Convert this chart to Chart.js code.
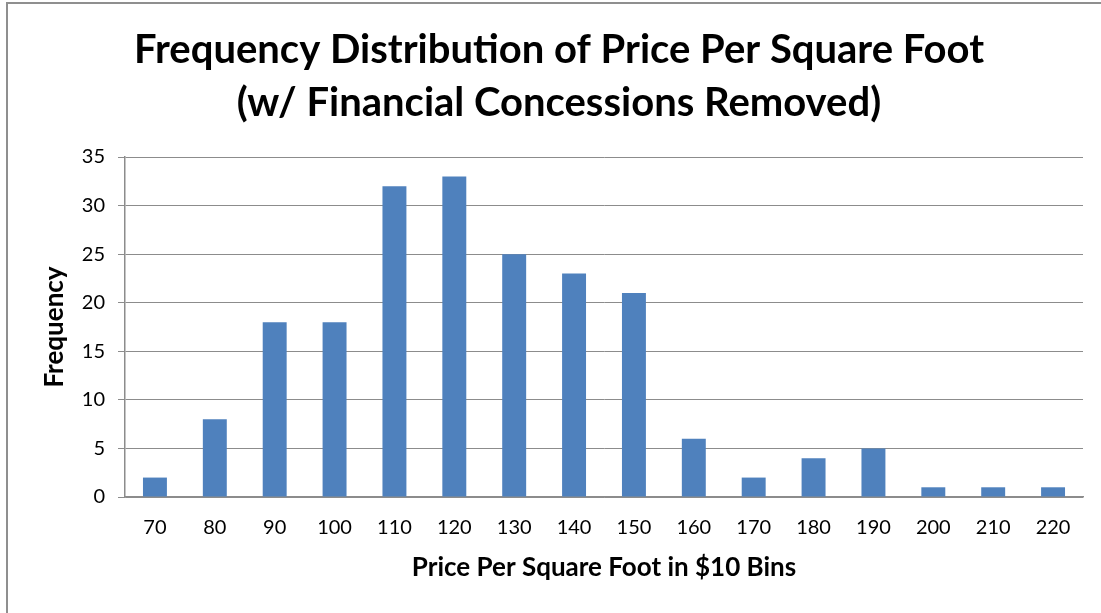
<!DOCTYPE html>
<html>
<head>
<meta charset="utf-8">
<script src="https://cdn.jsdelivr.net/npm/chart.js@4/dist/chart.umd.min.js"></script>
<style>
  html, body { margin: 0; padding: 0; background: #fff; overflow: hidden; width: 1101px; height: 613px; }
  #frame { position: absolute; left: 6px; top: 2px; width: 2000px; height: 2000px; border-left: 2px solid #8f8f8f; border-top: 2px solid #8f8f8f; }
  #c { position: absolute; left: 0; top: 0; }
</style>
</head>
<body>
<div id="frame"></div>
<canvas id="c" width="1101" height="613"></canvas>
<script>
const titleLines = ["Frequency Distribution of Price Per Square Foot", "(w/ Financial Concessions Removed)"];
const categories = ["70", "80", "90", "100", "110", "120", "130", "140", "150", "160", "170", "180", "190", "200", "210", "220"];
const frequencies = [2, 8, 18, 18, 32, 33, 25, 23, 21, 6, 2, 4, 5, 1, 1, 1];
const yTitle = "Frequency";
const xTitle = "Price Per Square Foot in $10 Bins";
const yMin = 0, yMax = 35, yStep = 5;

const FONT = "Lato";
const gridColor = "#8c8c8c";

const centerTitle = {
  id: "centerTitle",
  afterLayout(chart) {
    const t = chart.titleBlock;
    if (t) { t.left = 17; t.right = 1101; }
  }
};

new Chart(document.getElementById("c"), {
  type: "bar",
  data: {
    labels: categories,
    datasets: [{
      data: frequencies,
      backgroundColor: "#4f81bd",
      borderWidth: 0,
      categoryPercentage: 1.0,
      barPercentage: 0.4
    }]
  },
  plugins: [centerTitle],
  options: {
    responsive: false,
    animation: false,
    devicePixelRatio: 1,
    layout: { padding: { left: 0, right: 18, top: 0, bottom: 0 } },
    plugins: {
      legend: { display: false },
      tooltip: { enabled: false },
      title: {
        display: true,
        text: titleLines,
        color: "#000",
        font: { family: FONT, size: 40, weight: "bold", lineHeight: 1.325 },
        padding: { top: 23.5, bottom: 27.5 }
      }
    },
    scales: {
      x: {
        grid: { display: true, drawOnChartArea: false, drawTicks: false },
        border: { display: true, color: gridColor, width: 1.5 },
        ticks: { color: "#000", font: { family: FONT, size: 20 }, padding: 19, maxRotation: 0, autoSkip: false },
        title: { display: true, text: xTitle, color: "#000", font: { family: FONT, size: 26, weight: "bold", lineHeight: 1.2 }, padding: { top: 0, bottom: 30 } },
        afterFit: (s) => { s.height = 116; }
      },
      y: {
        min: yMin, max: yMax,
        grid: { color: gridColor, lineWidth: 1, tickLength: 7, drawTicks: true },
        border: { display: true, color: gridColor, width: 1.5 },
        ticks: { stepSize: yStep, color: "#000", font: { family: FONT, size: 20 }, padding: 13 },
        title: { display: true, text: yTitle, color: "#000", font: { family: FONT, size: 26, weight: "bold", lineHeight: 1.2 }, padding: { top: 39, bottom: 0 } },
        afterFit: (s) => { s.width = 125; }
      }
    }
  }
});
</script>
</body>
</html>
